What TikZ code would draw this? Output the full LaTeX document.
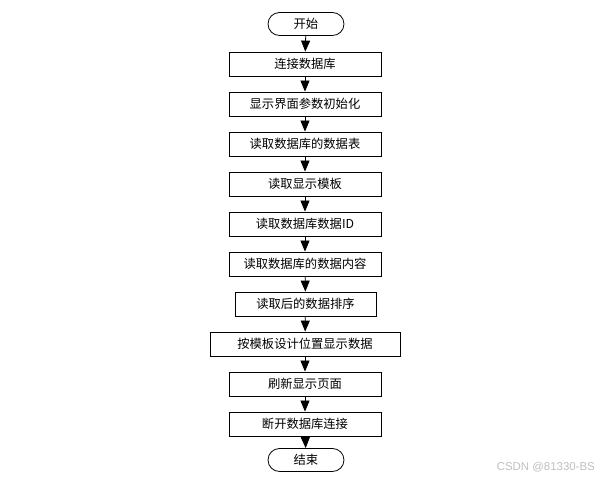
\documentclass[tikz,border=0pt]{standalone}
\usepackage{fontspec}
\newfontfamily\cjk{Noto Sans CJK SC}
\setsansfont{Liberation Sans}
\usetikzlibrary{shapes.misc,arrows.meta}
\tikzset{
  stepbox/.style={draw, line width=0.45pt, minimum width=3.04cm, minimum height=0.48cm,
    inner sep=0pt, font=\cjk\fontsize{7}{8}\selectfont},
  termbox/.style={stepbox, rounded rectangle, minimum width=1.52cm, minimum height=0.46cm},
  flow/.style={line width=0.45pt, -{Triangle[length=0.22cm, width=0.18cm]}}
}
\begin{document}
\begin{tikzpicture}[x=0.02cm, y=-0.02cm]
  \useasboundingbox (0,0) rectangle (610,479);

  \node[termbox] (start) at (306,24) {开始};
  \node[stepbox] (connect) at (305,64) {连接数据库};
  \node[stepbox] (init) at (305,104) {显示界面参数初始化};
  \node[stepbox] (table) at (305,144) {读取数据库的数据表};
  \node[stepbox] (tmpl) at (305,184) {读取显示模板};
  \node[stepbox] (readid) at (305,224) {读取数据库数据ID};
  \node[stepbox] (content) at (305,264) {读取数据库的数据内容};
  \node[stepbox, minimum width=2.82cm] (sort) at (305.5,304) {读取后的数据排序};
  \node[stepbox, minimum width=3.8cm] (show) at (305,344) {按模板设计位置显示数据};
  \node[stepbox] (refresh) at (305,384) {刷新显示页面};
  \node[stepbox] (close) at (305,424) {断开数据库连接};
  \node[termbox] (stop) at (306,460) {结束};

  \draw[flow] (start) -- (connect);
  \draw[flow] (connect) -- (init);
  \draw[flow] (init) -- (table);
  \draw[flow] (table) -- (tmpl);
  \draw[flow] (tmpl) -- (readid);
  \draw[flow] (readid) -- (content);
  \draw[flow] (content) -- (sort);
  \draw[flow] (sort) -- (show);
  \draw[flow] (show) -- (refresh);
  \draw[flow] (refresh) -- (close);
  \draw[flow] (close) -- (stop);

  \node[black!25, font=\sffamily\fontsize{6.5}{7}\selectfont, anchor=east] (mark) at (601,467) {CSDN @81330-BS};
\end{tikzpicture}
\end{document}
